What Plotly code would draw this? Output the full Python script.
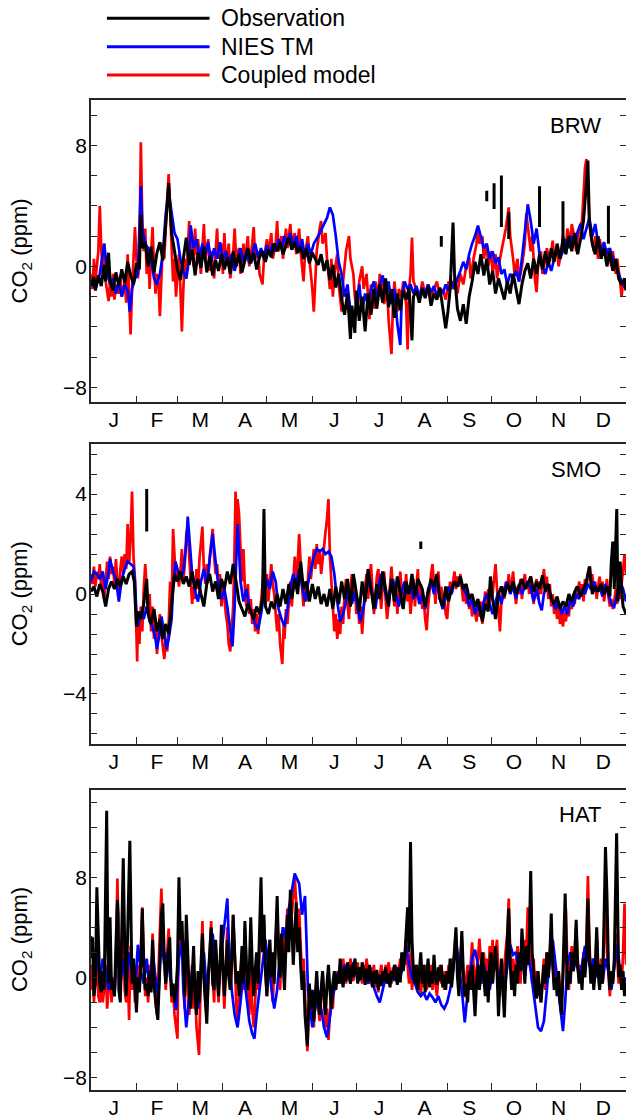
import plotly.graph_objects as go

MONTHS = ['J', 'F', 'M', 'A', 'M', 'J', 'J', 'A', 'S', 'O', 'N', 'D']
MONTH_STARTS = [0, 31, 59, 90, 120, 151, 181, 212, 243, 273, 304, 334, 365]
MONTH_MIDS = [(a + b) / 2 for a, b in zip(MONTH_STARTS[:-1], MONTH_STARTS[1:])]

# ---------------- BRW ----------------
BRW_OBS = [(0,-1.3),(2,-0.7),(3,-1.6),(5,-0.6),(7,-1.3),(9,0.1),(10,-1.0),(12,0.9),(13,-0.9),(15,-1.6),
 (17,-0.4),(19,-1.3),(21,-0.2),(23,-1.1),(25,0.3),(27,-0.6),(29,-1.2),(31,0.2),(33,-0.2),(34,3.4),
 (35,1.2),(37,1.6),(39,0.0),(41,1.3),(43,-0.4),(45,0.9),(47,1.6),(49,0.4),(51,2.8),(53,5.5),(55,2.2),
 (57,1.0),(59,-0.2),(61,-0.9),(63,0.6),(65,1.9),(67,0.1),(69,1.1),(71,-0.6),(73,0.9),(75,-0.1),(77,1.3),
 (79,-0.4),(81,0.7),(83,-0.6),(85,0.4),(87,-0.3),(89,0.8),(91,-0.2),(93,0.6),(95,-0.5),(97,1.0),(99,0.0),
 (101,0.8),(103,-0.4),(105,0.5),(107,1.2),(109,0.2),(111,0.9),(113,-0.2),(115,0.6),(117,1.0),(119,0.3),
 (121,1.1),(123,0.6),(125,1.5),(127,1.0),(129,1.6),(131,0.8),(133,1.4),(135,1.9),(137,1.1),(139,1.6),
 (141,0.9),(143,1.3),(145,0.5),(147,1.2),(149,0.2),(151,0.9),(153,0.5),(155,0.1),(157,0.8),(159,-0.3),
 (161,0.4),(163,-0.9),(165,0.1),(167,-1.4),(169,-0.5),(171,-2.2),(173,-3.2),(175,-1.8),(177,-4.8),
 (178,-2.6),(180,-4.4),(181,-1.6),(183,-3.6),(185,-2.0),(187,-4.3),(189,-1.8),(191,-3.2),(193,-1.5),
 (195,-2.8),(197,-1.2),(199,-2.4),(201,-0.8),(203,-2.7),(205,-1.5),(207,-3.4),(209,-1.8),(211,-2.9),
 (213,-1.6),(215,-2.2),(217,-1.4),(219,-4.9),(220,-2.0),(222,-1.6),(224,-2.4),(226,-1.5),(228,-2.1),
 (230,-1.3),(232,-2.6),(234,-1.8),(236,-2.2),(238,-1.4),(240,-2.8),(242,-4.1),(243.5,-3.0),(245,-1.5),
 (247,2.9),(248,-0.5),(250,-2.8),(252,-3.6),(254,-2.5),(256,-3.8),(258,-2.0),(260,-1.0),(262,0.3),
 (264,-0.5),(266,0.8),(268,-0.6),(270,0.5),(272,-1.2),(274,-0.3),(276,-1.8),(278,-0.8),(280,-1.6),
 (282,-2.2),(284,-1.0),(286,-1.8),(288,-0.5),(290,-1.5),(292,-2.5),(294,-1.2),(296,-0.3),(298,0.2),
 (300,-0.8),(302,0.5),(304,-0.5),(306,0.8),(308,-0.2),(310,1.0),(312,0.0),(314,1.2),(316,0.3),(318,1.5),
 (320,0.5),(322,1.8),(324,0.8),(326,2.0),(328,1.0),(330,2.2),(332,0.8),(334,1.8),(336,3.0),(338,5.5),
 (339,7.0),(340,3.0),(342,1.5),(344,0.8),(346,2.0),(348,0.5),(350,1.2),(352,0.0),(354,1.0),(356,-0.3),
 (358,0.5),(360,-0.8),(362,-1.2),(364,-0.8),(365,-1.6)]
BRW_OBS_MARKS = [(239,1.3,2.0),(270,4.3,5.0),(275,3.8,5.5),(280,2.6,6.0),(285,1.8,3.6),(306,2.6,5.3),
 (322,1.5,4.3),(353,1.5,4.0)]

BRW_NIES = [(0,-1.0),(3,-1.5),(6,-0.5),(8,0.8),(9,1.5),(11,-0.3),(13,-1.2),(15,-0.8),(17,-1.8),(19,-1.0),
 (21,-2.0),(23,-1.2),(25,-1.6),(26.5,-3.0),(28,-1.5),(30,-0.8),(32,-0.5),(34,5.3),(35,2.5),(37,1.5),
 (39,1.2),(41,0.5),(43,-0.8),(45,-1.2),(47,-0.5),(49,0.8),(51,3.5),(53,4.9),(55,3.5),(57,2.2),(59,1.8),
 (61,0.5),(63,-0.3),(65,-0.8),(67,0.5),(68,2.7),(70,1.2),(72,1.8),(74,0.6),(76,1.5),(78,0.8),(80,1.6),
 (82,0.3),(84,1.2),(86,0.5),(88,1.6),(90,0.4),(92,1.0),(94,0.2),(96,0.8),(98,-0.3),(100,0.5),(102,1.2),
 (104,0.3),(106,1.0),(108,0.2),(110,0.9),(112,1.5),(114,0.6),(116,1.2),(118,0.5),(120,1.4),(122,0.8),
 (124,1.5),(126,1.0),(128,1.8),(130,1.2),(132,2.0),(134,1.5),(136,2.2),(138,1.3),(140,2.0),(142,1.0),
 (144,1.8),(146,0.6),(148,1.5),(150,0.8),(152,1.5),(155,2.0),(158,2.6),(161,3.2),(163,3.9),(165,3.4),
 (167,2.0),(169,0.3),(171,-0.5),(173,-2.0),(175,-1.2),(177,-3.0),(179,-4.0),(181,-2.5),
 (183,-1.2),(185,-3.0),(187,-1.8),(189,-2.5),(191,-1.5),(193,-1.0),(195,-2.2),(197,-1.2),(199,-0.6),
 (201,-1.8),(203,-1.0),(205,-2.5),(207,-1.5),(209,-3.8),(211,-5.2),(212,-2.0),(214,-1.0),(216,-1.5),
 (218,-1.2),(220,-1.8),(222,-1.3),(224,-2.0),(226,-1.4),(228,-1.8),(230,-1.2),(232,-1.7),(234,-1.3),
 (236,-2.0),(238,-1.5),(240,-1.8),(242,-1.2),(244,-1.6),(246,-1.0),(248,-1.5),(250,-0.8),(252,-0.3),
 (254,0.3),(256,-0.2),(258,0.8),(260,1.5),(262,2.0),(264,2.7),(266,2.0),(268,1.2),(270,1.5),(272,0.5),
 (274,1.0),(276,0.2),(278,0.6),(280,-0.5),(282,-0.2),(284,-1.2),(286,-0.5),(288,-0.8),(290,-0.3),
 (292,-1.0),(294,0.5),(296,2.5),(298,4.1),(300,3.0),(302,1.5),(304,2.5),(306,0.8),(308,0.0),(310,-0.5),
 (312,0.3),(314,-0.3),(316,0.5),(318,1.2),(320,0.5),(322,1.0),(324,1.8),(326,1.2),(328,2.0),(330,1.5),
 (332,2.3),(334,2.8),(336,1.8),(338,2.5),(340,3.2),(342,2.0),(344,2.8),(346,1.5),(348,1.0),(350,1.6),
 (352,0.8),(354,1.2),(356,0.5),(358,0.0),(360,-0.5),(362,-1.0),(365,-1.5)]

BRW_COUPLED = [(0,-0.5),(1,-1.5),(2,0.5),(3,-1.0),(5,1.0),(6,4.0),(7,1.2),(8,-0.5),(9,1.5),(10,-1.0),
 (12,-2.3),(13,-1.0),(14,-2.0),(15,-0.5),(16,-2.2),(17,-1.2),(19,-1.8),(20,-0.8),(21,-2.0),(23,-1.0),
 (24,-2.4),(25,0.8),(26,-2.0),(27,-4.5),(28,-1.5),(29,1.2),(30,2.6),(31,0.5),(32,-0.8),(33,0.5),(34,8.2),
 (35,3.0),(36,1.0),(37,2.5),(38,-0.5),(39,1.0),(40,-1.5),(41,0.8),(42,2.6),(43,0.0),(44,-1.8),(45,-0.5),
 (46,-1.0),(47,-3.3),(48,-1.2),(49,1.5),(50,0.5),(51,2.8),(52,4.5),(53,6.1),(54,3.5),(55,1.0),(56,-1.0),
 (57,0.5),(58,-2.0),(59,-0.5),(60,0.8),(61,-1.5),(62,-4.3),(63,-1.5),(64,0.5),(65,-0.8),(66,1.5),(67,3.0),
 (68,1.0),(69,2.0),(70,0.0),(71,2.5),(72,0.8),(73,1.8),(75,-0.5),(76,1.2),(77,2.8),(78,0.5),(80,1.8),
 (81,-0.3),(82,1.0),(84,-0.8),(85,1.2),(86,2.5),(87,0.5),(89,1.5),(90,-0.5),(91,2.2),(92,0.0),(94,1.5),
 (95,-0.8),(97,0.8),(98,2.5),(99,0.5),(101,1.2),(102,-0.5),(104,1.5),(105,0.3),(107,2.0),(108,0.0),
 (110,1.5),(111,2.6),(112,0.5),(114,1.0),(115,-0.5),(117,-1.2),(118,0.5),(120,1.8),(121,0.8),(123,2.2),
 (124,0.5),(126,1.5),(127,3.0),(128,1.0),(130,2.0),(131,0.5),(133,2.5),(134,1.2),(136,2.8),(137,1.5),
 (139,2.2),(140,0.8),(142,2.5),(143,1.0),(145,-1.0),(146,0.8),(148,2.0),(149,0.5),(151,-1.5),(152,-3.0),
 (153,-1.0),(154,1.0),(156,2.5),(157,3.0),(158,1.5),(160,2.2),(161,0.5),(163,-1.5),(164,0.5),(165,-2.0),
 (166,-0.5),(168,0.8),(169,-1.2),(171,-3.0),(172,-1.0),(174,1.0),(176,2.0),(177,0.5),(179,-0.5),
 (180,-2.0),(182,-3.0),(183,-1.0),(185,0.0),(186,-1.5),(188,-0.5),(190,-3.5),(191,-1.2),(193,-2.8),
 (194,-1.0),(196,-2.0),(197,-0.5),(199,-1.5),(200,-2.5),(202,-1.2),(203,-3.5),(204,-4.5),(205,-5.8),
 (206,-2.5),(207,-1.0),(209,-3.0),(210,-1.5),(212,-2.0),(213,-1.0),(215,-2.5),(216,-5.5),(217,-1.5),
 (218,-0.5),(219,1.9),(220,-1.0),(222,-1.5),(224,-2.2),(226,-1.0),(228,-1.8),(230,-1.2),(232,-2.0),
 (234,-1.5),(236,-1.0),(238,-2.0),(240,-1.5),(242,-2.2),(244,-1.0),(246,-1.5),(248,-0.8),(250,-1.8),
 (252,-0.5),(254,-1.2),(256,0.0),(258,0.6),(259,-0.8),(261,0.5),(263,1.5),(264,2.6),(265,1.5),(267,2.0),
 (268,0.5),(270,1.5),(271,0.0),(273,1.0),(274,-0.5),(276,0.8),(277,-0.8),(279,0.5),(281,1.5),(283,2.5),
 (285,3.9),(286,2.0),(288,0.5),(289,-0.5),(291,0.5),(292,-1.0),(294,0.0),(296,1.5),(297,3.5),(298,2.5),
 (300,1.0),(301,2.0),(302,0.0),(303,-1.0),(304,-1.7),(305,0.0),(307,1.0),(308,-0.5),(310,0.5),(311,1.2),
 (313,0.3),(315,1.7),(316,0.5),(318,1.2),(319,0.0),(321,1.0),(322,2.0),(324,1.2),(325,2.5),(327,1.5),
 (328,2.8),(330,1.8),(331,1.0),(333,2.5),(335,3.0),(336,5.0),(337,6.5),(338,7.1),(339,5.5),(340,3.0),
 (341,2.0),(343,1.0),(344,2.0),(346,0.5),(347,1.8),(349,0.8),(350,1.5),(352,0.5),(353,1.2),(355,0.0),
 (356,1.0),(358,-0.5),(359,0.5),(361,-1.0),(362,-2.0),(363,-1.0),(365,-1.5)]

# ---------------- SMO ----------------
SMO_OBS = [(0,0.1),(2,0.3),(4,-0.1),(6,0.4),(8,0.1),(10,-0.5),(12,0.2),(14,0.5),(16,0.2),(18,0.6),(20,0.3),
 (22,0.7),(24,0.4),(26,0.8),(28,0.9),(29.5,0.5),(31,-1.3),(32,-0.7),(34,-1.0),(36,-0.4),(38,0.6),(39,-0.8),
 (41,-1.2),(43,-0.6),(45,-1.5),(47,-1.0),(49,-1.8),(51,-1.2),(53,-1.6),(55,-0.5),(57,0.8),(59,0.5),
 (61,0.9),(63,0.4),(65,0.7),(67,0.3),(69,0.9),(71,0.2),(73,0.6),(75,0.0),(77,-0.5),(79,0.4),(81,0.8),
 (83,0.1),(85,0.5),(87,-0.2),(89,0.6),(91,0.2),(93,0.9),(95,0.4),(97,1.2),(99,0.5),(101,-0.3),(103,-0.6),
 (105,-0.9),(107,-0.4),(109,-0.7),(111,-1.0),(113,-0.5),(115,-0.8),(117,-0.2),(118,3.4),(119,-0.5),
 (121,-0.8),(123,-0.3),(125,-0.6),(127,0.0),(129,-0.5),(131,0.2),(133,-0.4),(135,0.4),(137,-0.2),
 (139,0.6),(141,0.0),(143,1.3),(145,0.2),(147,0.5),(149,-0.3),(151,0.4),(153,-0.2),(155,0.3),(157,-0.4),
 (159,0.0),(161,-0.5),(163,0.2),(165,-0.6),(167,0.3),(169,-0.4),(171,0.5),(173,-0.2),(175,0.6),(177,-0.5),
 (179,0.8),(181,0.0),(183,-0.7),(185,0.5),(187,-0.3),(189,1.0),(191,0.2),(193,-0.6),(195,0.4),(197,-0.2),
 (199,0.9),(201,0.1),(203,-0.5),(205,0.6),(207,-0.3),(209,0.7),(211,0.0),(213,-0.6),(215,0.5),(217,0.0),
 (219,0.8),(221,-0.1),(223,0.6),(226,0.2),(228,-0.5),(230,0.0),(232,0.6),(234,0.3),(236,0.8),(238,-0.2),
 (240,-0.5),(242,0.3),(244,-0.3),(246,0.2),(248,0.5),(250,0.3),(252,0.7),(254,0.2),(256,0.4),(258,-0.2),
 (260,0.0),(262,-0.5),(264,-0.2),(266,-0.8),(267,-1.1),(269,-0.4),(271,-0.7),(272.5,0.7),(274,-0.2),
 (276,-1.0),(278,0.0),(280,0.3),(282,-0.1),(284,0.4),(286,0.1),(288,0.5),(290,0.0),(292,0.3),(294,0.6),
 (296,0.2),(298,0.4),(300,0.7),(302,0.1),(304,0.5),(306,0.2),(308,0.75),(310,0.1),(312,0.4),(314,-0.2),
 (316,-0.4),(318,-0.1),(320,-0.6),(322,-0.3),(324,-0.5),(326,0.0),(328,-0.3),(330,0.1),(332,0.3),
 (334,-0.1),(336,0.2),(338,0.5),(340,1.1),(342,0.0),(344,0.3),(346,0.1),(348,0.4),(350,0.0),(352,0.3),
 (354,-0.1),(355,1.3),(356,2.1),(357,0.2),(358.7,3.4),(359.5,-0.3),(361,1.3),(362,0.2),(363,-0.5),
 (365,-0.8)]
SMO_OBS_MARKS = [(38,2.5,4.2),(225,1.8,2.1)]

SMO_NIES = [(0,0.5),(2,0.9),(4,0.8),(6,0.6),(8,0.9),(10,0.2),(12,0.9),(13,1.4),(15,0.9),(17,0.6),(19,-0.3),
 (21,0.6),(23,1.0),(25,1.3),(27,1.2),(29,1.1),(30,0.5),(31,-0.8),(32,-1.3),(34,-0.7),(36,-1.0),(38,-0.5),
 (40,-1.1),(42,-1.3),(44,-1.8),(45,-2.2),(47,-1.5),(48,-0.9),(50,-1.5),(51.5,-2.2),(53,-1.8),(55,-1.0),
 (56,0.3),(57.6,1.3),(59,1.0),(61,0.6),(63,0.9),(65,2.0),(66,3.1),(67,2.2),(69,0.8),(71,0.1),(73,-0.3),
 (75,0.5),(77,1.0),(79,0.4),(81,1.5),(83,2.4),(85,1.3),(87,0.3),(89,-0.2),(91,0.2),(93,-0.5),(95,-1.5),
 (96.5,-2.1),(98,-0.5),(99,1.6),(100,2.8),(101,1.8),(102,0.5),(104,-0.3),(106,0.2),(108,-0.5),(110,-0.9),
 (112,-1.2),(114,-1.4),(116,-0.8),(118,0.0),(120,0.6),(122,0.2),(124,0.9),(126,0.5),(128,-0.6),(130,-1.0),
 (132,-1.3),(134,-0.6),(136,0.3),(138,0.8),(140,0.4),(142,1.0),(144,0.3),(146,-0.3),(148,0.4),(150,0.9),
 (152,1.5),(154,1.8),(156,1.7),(158,1.8),(160,1.6),(162,1.7),(164,1.5),(166,0.8),(168,-0.3),(170,-1.1),
 (172,-0.8),(174,-0.3),(176,0.2),(178,-0.4),(180,0.1),(182,-0.6),(184,-1.1),(186,-0.5),(188,0.2),
 (190,0.6),(192,0.0),(194,-0.6),(196,0.3),(198,0.8),(200,0.3),(202,-0.3),(204,0.2),(206,0.6),(208,0.0),
 (210,-0.5),(212,0.1),(214,0.5),(216,0.0),(218,0.4),(220,-0.2),(222,0.3),(224,-0.4),(226,0.0),(228,-0.6),
 (230,0.2),(232,0.5),(234,0.0),(236,0.6),(238,-0.2),(240,-0.6),(242,-0.2),(244,0.3),(246,0.0),(248,0.5),
 (250,0.3),(252,0.6),(254,0.2),(256,0.0),(258,-0.5),(260,-0.2),(262,-0.8),(264,-0.4),(266,-0.9),
 (268,-0.3),(270,0.0),(272,-0.4),(274,-0.8),(276,-0.3),(278,0.1),(280,-0.4),(282,0.2),(284,0.5),(286,0.0),
 (288,0.3),(290,-0.2),(292,0.4),(294,0.0),(296,0.3),(298,0.5),(300,0.2),(302,-0.3),(304,0.2),(306,-0.4),
 (307.5,-0.65),(309,0.0),(311,0.4),(313,0.0),(315,-0.3),(317,-0.6),(319,-0.3),(321,-0.8),(323,-0.5),
 (325,-0.8),(327,-0.2),(329,-0.5),(331,0.0),(333,-0.2),(335,0.2),(337,0.0),(339,0.4),(341,0.2),(343,0.5),
 (345,0.1),(347,0.3),(349,-0.1),(351,0.4),(353,0.0),(355,-0.4),(357,-0.5),(359,0.0),(361,0.5),(363,0.2),
 (365,-0.3)]

SMO_COUPLED = [(0,0.8),(1,0.4),(2,1.1),(3,0.3),(4,0.9),(5,0.6),(6,1.2),(7,0.2),(8,0.7),(9,-0.2),(10,0.5),
 (11,1.3),(12,0.6),(13,1.5),(14,0.8),(15,1.1),(16,0.4),(17,1.4),(18,0.5),(19,0.0),(20,1.0),(21,1.5),
 (22,0.8),(23,1.6),(24,1.0),(25,2.8),(26,1.2),(27,2.2),(28,4.1),(29,1.5),(30,0.6),(31,-2.0),(31.5,-2.7),
 (32,-1.0),(33,-2.0),(34,-0.5),(35,-1.5),(36,0.2),(37,1.2),(38,0.3),(39,-0.8),(40,0.0),(41,-1.5),
 (42,-0.5),(43,-1.8),(44,-1.0),(45,-2.4),(46,-1.5),(47,-0.8),(48,-1.6),(49,-2.2),(50,-2.6),(51,-1.8),
 (52,-2.3),(53,-1.2),(54,0.5),(55,-0.5),(56,2.6),(57,1.5),(58,0.5),(59,1.0),(60,0.3),(61,0.9),(62,1.8),
 (63,0.6),(64,1.2),(65,2.4),(66,2.7),(67,1.5),(68,0.5),(69,-0.4),(70,0.3),(71,-0.2),(72,1.0),(73,0.2),
 (74,1.4),(75,2.0),(76,2.7),(77,1.0),(78,0.4),(79,1.2),(80,0.6),(81,1.5),(82,2.0),(83,2.6),(84,1.5),
 (85,0.8),(86,1.2),(87,0.3),(88,0.8),(89,-0.5),(90,0.5),(91,-0.2),(92,-0.8),(93,-1.2),(94,-2.0),(95,-2.3),
 (96,-1.5),(97,-0.5),(98,2.0),(98.6,4.1),(99.5,2.5),(100,3.8),(101,3.2),(102,1.5),(103,0.5),(104,1.8),
 (105,0.2),(106,-0.5),(107,0.4),(108,-0.8),(109,-0.2),(110,-1.2),(111,-0.6),(112,-1.5),(113,-0.8),
 (114,-1.6),(115,-1.0),(116,-0.2),(117,0.5),(118,1.0),(119,0.2),(120,0.8),(121,-0.3),(122,0.5),(123,1.2),
 (124,0.4),(125,0.0),(126,-0.8),(127,-1.5),(128,-0.8),(129,-2.0),(130.5,-2.8),(131.5,-1.2),(132,-1.8),
 (133,-0.6),(134,-1.2),(135,-0.2),(136,0.5),(137,-0.5),(138,0.8),(139,1.5),(140,0.6),(141,1.2),(142,2.4),
 (143,1.0),(144,0.2),(145,-0.5),(146,0.5),(147,-0.3),(148,0.8),(149,1.5),(150,0.6),(151,1.2),(152,1.8),
 (153,1.0),(154,2.0),(155,1.2),(156,1.8),(157,0.8),(158,1.5),(159,1.9),(160,2.5),(161,3.0),(162,3.8),
 (163,1.5),(164,0.5),(165,-0.5),(166,-1.5),(167,-0.8),(168,-1.8),(169,-1.0),(170,-1.6),(171,-0.5),
 (172,-1.2),(173,0.0),(174,0.6),(175,-0.4),(176,-1.0),(177,0.2),(178,0.8),(179,-0.3),(180,0.5),(181,-0.8),
 (182,-0.2),(183,-1.2),(184,-0.5),(185,-1.6),(186,-0.6),(187,0.3),(188,0.8),(189,-0.2),(190,0.5),
 (191,1.2),(192,0.2),(193,-0.8),(194,-0.2),(195,0.7),(196,1.0),(197,0.0),(198,-0.6),(199,0.3),(200,0.9),
 (201,-0.2),(202,-1.0),(203,-0.4),(204,0.5),(205,1.1),(206,0.2),(207,-0.5),(208,0.4),(209,-0.8),(210,0.0),
 (211,0.9),(212,0.2),(213,-0.6),(214,0.1),(215,0.8),(216,-0.3),(217,0.3),(218,-0.8),(219,0.0),(220,0.6),
 (221,-0.5),(222,0.2),(223,1.0),(224,-0.3),(225,0.4),(226,-0.6),(227,-0.2),(228,-1.0),(229,-1.45),
 (230,-0.5),(231,0.3),(232,0.8),(233,1.2),(234,0.2),(235,-0.4),(236,0.5),(237,0.9),(238,-0.2),(239,0.3),
 (240,-0.6),(241,0.0),(242,-0.8),(243,-1.0),(244,-0.2),(245,0.5),(246,0.0),(247,0.6),(248,0.9),(249,0.2),
 (250,0.7),(251,0.3),(252,0.8),(253,0.2),(254,-0.3),(255,0.4),(256,-0.4),(257,0.2),(258,-0.6),(259,-0.2),
 (260,-0.9),(261,-0.3),(262,-0.7),(263,-1.1),(264,-0.5),(265,-0.9),(266,-0.3),(267,-1.2),(268,-0.4),
 (269,0.1),(270,-0.5),(271,0.2),(272,-0.3),(273,0.5),(274,0.0),(275,0.8),(276,1.2),(277,0.2),(278,-0.6),
 (279,-1.5),(280,-0.3),(281,0.3),(282,-0.2),(283,0.5),(284,0.2),(285,0.8),(286,0.0),(287,0.6),(288,0.9),
 (289,0.1),(290,-0.4),(291,0.3),(292,0.0),(293,0.6),(294,-0.2),(295,0.4),(296,0.8),(297,0.2),(298,0.5),
 (299,0.0),(300,0.7),(301,0.2),(302,-0.4),(303,0.3),(304,0.6),(305,-0.2),(306,0.5),(307,0.0),(308,0.6),
 (309,1.0),(310,0.3),(311,0.7),(312,-0.2),(313,0.4),(314,-0.5),(315,0.0),(316,-0.8),(317,-0.3),(318,-1.0),
 (319,-0.5),(320,-1.2),(321,-0.6),(322,-1.3),(323,-0.7),(324,-1.1),(325,-0.4),(326,-0.9),(327,-0.2),
 (328,-0.6),(329,0.0),(330,-0.4),(331,0.3),(332,-0.2),(333,0.5),(334,0.0),(335,0.4),(336,-0.3),(337,0.6),
 (338,0.2),(339,0.8),(340.5,1.1),(341,0.4),(342,0.8),(343,0.1),(344,0.5),(345,-0.2),(346,0.3),(347,0.7),
 (348,0.1),(349,0.5),(350,-0.3),(351,0.2),(352,0.6),(353,-0.1),(354,-0.5),(355,-0.2),(356,-0.6),
 (357,-0.3),(358,0.2),(359,-0.4),(360,0.5),(361,-0.2),(362,0.6),(363,1.0),(364,1.6),(365,0.8)]

# ---------------- HAT ----------------
HAT_OBS = [(0,1.5),(1,3.2),(2,-1.5),(3,-0.5),(4,7.2),(5,4.0),(6,-0.5),(7,-1.2),(8,0.5),(9,-1.0),(10,6.5),
 (10.7,13.3),(11.5,2.0),(12,-0.5),(13,4.8),(14,-1.0),(15,-0.2),(16,-1.5),(17,2.5),(18,6.2),(18.5,5.0),
 (19,-1.0),(20,-2.0),(21,4.0),(22,9.5),(23,2.5),(24,-1.5),(25,3.5),(26.5,10.9),(27.5,3.0),(28,-0.5),
 (29,1.5),(30,-1.0),(31,-2.8),(32,0.0),(33,-1.2),(34,1.0),(35,5.5),(36,1.0),(37,-1.0),(38,-0.5),(39,-1.5),
 (40,0.5),(41,-1.2),(42,3.0),(43,-0.5),(44,-1.8),(45.6,-3.4),(46.5,-0.5),(47,2.0),(48,5.0),(49,5.9),
 (50,1.5),(51,-0.5),(52,1.0),(53.7,3.2),(54.5,0.0),(55,-1.5),(56,-0.5),(57,-2.0),(58,-1.0),(59,1.0),
 (60,8.0),(61,3.0),(62,4.5),(63,1.0),(64,-1.5),(65,5.0),(66,1.0),(67,-1.0),(68,-2.5),(69,0.0),(70,2.5),
 (71,-1.5),(72,-3.0),(73,0.5),(74,-2.0),(75,1.0),(76,3.5),(77,0.0),(78,-1.5),(79,-3.7),(80,0.0),(81,2.0),
 (82,4.0),(83,-0.5),(84,-1.0),(85,3.0),(86,0.5),(87,-1.5),(88,1.0),(89,4.2),(90,1.0),(91,-1.5),(92,0.5),
 (93,3.0),(94,0.0),(95,-1.0),(96,1.5),(97,5.0),(98,2.0),(99,-0.5),(100,0.5),(101,-1.5),(102,0.0),
 (103,2.5),(104,-0.5),(105,4.5),(106,1.0),(107,-1.0),(108,0.5),(109,4.8),(110,1.0),(111,-1.5),(112,0.5),
 (113,2.0),(114,-0.5),(115,3.0),(116,8.0),(117,2.0),(118,5.0),(119,0.5),(120,-1.5),(121,1.0),(122,3.0),
 (123,0.0),(124,2.0),(125,-0.5),(126,4.0),(127,6.5),(128,2.0),(129,0.0),(130,3.5),(131,1.0),(132,-1.0),
 (133,2.5),(134,5.0),(135,2.0),(136,7.0),(137,4.0),(138,1.0),(139,3.5),(140,6.0),(141,2.0),(142,4.0),
 (143,1.0),(144,-1.0),(145,0.5),(146,-3.0),(147.6,-5.5),(148.5,-2.0),(149,-0.5),(150,-2.5),(151,-1.0),
 (152,-3.5),(153,-1.5),(154,0.5),(155,-2.0),(156,-3.0),(157,-1.0),(158,0.5),(159,-1.5),(160,-3.0),
 (161,-0.5),(162,1.0),(163,-1.0),(164,-2.5),(165,-0.5),(166,0.5),(167,-1.0),(168,0.3),(169,-0.5),
 (170,1.5),(171,0.0),(172,-0.8),(173,0.8),(174,-0.3),(175,1.2),(176,0.2),(177,-0.5),(178,1.0),(179,0.0),
 (180,1.5),(181,0.3),(182,-0.5),(183,0.8),(184,-0.2),(185,1.2),(186,0.5),(187,-0.6),(188,0.7),(189,-0.3),
 (190,1.0),(191,0.0),(192,-0.8),(193,0.5),(194,-0.5),(195,0.6),(196,-1.0),(197,0.2),(198,-0.7),(199,0.5),
 (200,-0.3),(201,0.8),(202,-0.5),(203,0.3),(204,-0.8),(205,0.5),(206,-0.2),(207,1.0),(208,0.0),(209,-0.6),
 (210,0.8),(211,-0.4),(212,2.0),(213,0.5),(214,1.5),(215,4.0),(216,5.6),(217,2.0),(218,10.8),(219,3.0),
 (220,0.5),(221,-0.5),(222,1.0),(223,-1.0),(224,0.5),(225,2.0),(226,-0.5),(227,1.0),(228,-1.2),(229,0.3),
 (230,1.5),(231,-0.8),(232,0.5),(233,-0.5),(234,1.8),(235,0.0),(236,-0.6),(237,0.8),(238,-0.3),(239,1.0),
 (240,-0.8),(241,0.2),(242,-1.0),(243,0.5),(244,-0.5),(245,1.5),(246,-0.8),(247,0.5),(248,2.0),(249,4.0),
 (250,0.0),(251,-1.5),(252,1.0),(253,3.7),(254,0.5),(255,-1.5),(256,-0.5),(257,-2.0),(258,0.5),(259,-1.0),
 (260,1.0),(261,-1.5),(262,-3.1),(263,-0.5),(264,1.0),(265,-1.0),(266,0.5),(267,2.0),(268,0.0),(269,-1.5),
 (270,0.5),(271,-2.0),(272,1.0),(273,2.0),(274,-0.5),(275,1.5),(276,2.5),(277,0.5),(278,-3.1),(279,-0.5),
 (280,1.5),(281,-1.0),(282,-3.2),(283,0.0),(284,2.5),(285,5.5),(286,1.0),(287,-1.0),(288,0.5),(289,-1.5),
 (290,1.0),(291,-0.5),(292,2.0),(293,0.5),(294,3.9),(295,1.0),(296,-0.5),(297,2.5),(298,1.0),(299,3.0),
 (300,8.5),(301,2.0),(302,0.0),(303,-1.0),(304,-1.7),(305,0.5),(306,-1.0),(307,-2.0),(308,-0.5),(309,1.0),
 (310,-0.5),(311,2.0),(312,0.0),(313,1.5),(314,5.1),(315,1.0),(316,-1.0),(317,0.0),(318,-1.5),(319,0.5),
 (320,-2.0),(321,-3.0),(322,0.5),(323.5,6.7),(324.5,1.0),(325,-1.0),(326,0.5),(327,-0.5),(328,2.0),
 (329,0.5),(330,1.5),(331,4.6),(332,1.0),(333,-0.5),(334,0.5),(335,-1.0),(336,1.5),(337,0.0),(338,2.0),
 (339,6.3),(340,2.0),(341,-0.5),(342,1.0),(343,-1.0),(344,0.5),(345,4.0),(346,0.5),(347,-1.0),(348,1.0),
 (349,-0.5),(350,4.5),(351,10.4),(352,6.6),(353,1.0),(354,-1.0),(355,0.5),(356,-0.5),(357,1.5),
 (358.6,11.5),(359.5,3.0),(360,0.0),(361,1.0),(362,-1.0),(363,0.5),(364,-1.5),(365,-0.5)]

HAT_NIES = [(0,3.3),(2,1.0),(4,2.5),(6,-0.5),(8,1.5),(10,0.5),(12,-1.0),(14,0.0),(16,-1.5),(18,3.0),
 (20,-0.5),(22,1.5),(24,-1.0),(26,2.0),(28,0.5),(30,-1.0),(32,2.6),(34,0.5),(36,-0.5),(38,1.5),(40,-1.0),
 (42,2.0),(44,0.0),(46,-1.5),(48,3.0),(50,1.0),(52,2.0),(54,0.0),(56,-1.0),(58,-2.6),(60,1.5),(62,3.0),
 (63,-1.0),(65,-4.0),(67,-1.5),(69,0.5),(71,-1.0),(73,-2.5),(75,0.0),(77,2.0),(79,-1.0),(81,1.5),(83,3.5),
 (85,1.0),(87,-1.0),(89,2.0),(91,4.0),(93,6.3),(94,3.0),(96,-1.0),(98,-3.0),(100,-4.0),(102,-2.0),
 (104,0.5),(106,-1.5),(108,-3.5),(110,-4.5),(111.5,-4.9),(113,-3.0),(115,-1.0),(117,1.5),(119,3.0),
 (121,1.0),(123,-1.0),(125,-2.5),(127,-1.0),(129,2.0),(131,4.0),(133,3.0),(135,5.5),(137,7.0),(139,8.3),
 (140,8.0),(142,7.5),(144,5.0),(146,6.5),(147,3.0),(148,-1.0),(150,-3.0),(151,-4.0),(153,-2.5),(155,-1.0),
 (157,-2.5),(159,-4.0),(161,-4.8),(163,-3.0),(165,-1.5),(167,-0.5),(169,0.5),(171,-0.5),(173,1.0),
 (175,0.5),(177,-0.5),(179,1.2),(181,0.5),(183,-0.3),(185,0.8),(187,0.0),(189,-0.5),(191,0.3),(193,-0.8),
 (195,-1.5),(197,-2.0),(199,-1.0),(201,0.0),(203,-0.5),(205,0.5),(207,-0.3),(209,0.8),(211,0.0),(213,1.0),
 (215,2.5),(217,1.0),(219,0.0),(221,-0.5),(223,-1.2),(225,-1.5),(227,-1.2),(229,-1.8),(231,-1.3),
 (233,-1.6),(235,-2.0),(237,-1.5),(239,-2.2),(241,-2.5),(243,-2.0),(245,-1.0),(247,0.5),(249,3.1),
 (251,1.0),(253,-1.0),(255,-3.6),(256,-2.5),(258,0.0),(260,1.5),(262,2.2),(264,1.0),(266,-0.5),(268,1.0),
 (270,0.0),(272,-1.0),(274,0.5),(276,1.5),(278,0.0),(280,0.4),(282,-1.0),(284,1.0),(286,2.6),(288,1.8),
 (290,2.0),(292,0.5),(294,1.5),(296,0.0),(298,2.0),(300,0.5),(302,-1.5),(304,-3.0),(305,-4.0),(307,-4.3),
 (309,-3.5),(311,-1.0),(313,1.5),(315,3.0),(317,1.0),(319,-1.0),(321,-3.0),(322,-4.3),(323.5,-2.0),
 (325,1.0),(327,2.0),(329,0.5),(331,1.5),(333,0.0),(335,1.0),(337,2.5),(339,1.5),(341,0.5),(343,1.5),
 (345,0.0),(347,1.0),(349,-0.5),(351,1.5),(353,0.5),(355,-1.0),(357,1.0),(359,2.6),(361,0.5),(363,-1.0),
 (365,0.0)]

HAT_COUPLED = [(0,-1.0),(1,1.0),(2,-2.0),(3,0.5),(4,3.0),(5,-1.5),(6,-2.0),(7,0.5),(8,-2.0),(9,-1.0),
 (10,1.0),(11,-2.5),(12,-1.0),(13,2.0),(14,-2.0),(15,0.0),(16,-1.5),(17,1.0),(18,7.9),(19,2.0),(20,-1.5),
 (21,1.0),(22,4.0),(23,-1.0),(24,-2.0),(25,0.5),(26,-3.4),(27,2.5),(28,-1.0),(29,1.0),(30,-2.0),(31,-1.5),
 (32,1.0),(33,-1.0),(34,2.0),(35,5.6),(36,1.5),(37,-1.5),(38,0.0),(39,-2.0),(40,1.0),(41,-1.0),(42,3.5),
 (43,0.5),(44,-2.0),(45,-3.0),(46,0.0),(47,3.0),(48,7.1),(49,4.0),(50,1.0),(51,-1.0),(52,2.0),(53,3.9),
 (54,1.0),(55,-2.0),(56,-1.0),(57,-3.0),(59,-4.9),(60,7.1),(61,2.0),(62,4.5),(63,0.0),(64,-2.5),(65,3.0),
 (66,-1.0),(67,-3.0),(68,-1.0),(69,1.0),(70,-2.5),(71,-1.0),(72,-4.0),(73.7,-6.2),(74.5,-2.0),(75,1.0),
 (76,4.5),(77,0.5),(78,-2.0),(79,-3.0),(80,0.0),(81,2.0),(82,4.5),(83,0.0),(84,-2.0),(85,2.5),(86,0.5),
 (87,-2.0),(88,1.0),(89,3.0),(90,0.0),(91,-2.5),(92,1.0),(93,4.0),(94,1.5),(95,-1.0),(96,0.5),(97,5.0),
 (98,2.0),(99,-2.0),(100,-3.5),(101,-1.0),(102,0.5),(103,2.0),(104,-1.0),(105,4.0),(106,0.5),(107,-2.0),
 (108,-3.0),(109,1.0),(110,-2.5),(111,-4.0),(112,-2.0),(113,0.5),(114,-1.0),(115,2.5),(116,6.0),(117,2.0),
 (118,4.5),(119,0.5),(120,-1.5),(121,1.0),(122,3.0),(123,-0.5),(124,-2.0),(125,0.5),(126,3.5),(127,5.5),
 (128,2.0),(129,-1.0),(130,2.0),(131,4.0),(132,1.0),(133,3.0),(134,5.5),(135,3.0),(136,6.5),(137,5.0),
 (138,7.0),(139,8.0),(140,6.0),(141,3.0),(142,5.5),(143,2.0),(144,0.0),(145,1.5),(146,-2.0),(147.6,-5.9),
 (148.5,-3.0),(149,-1.0),(150,-3.0),(151,-1.5),(152,-4.0),(153,-2.0),(154,0.0),(155,-2.5),(156,-3.5),
 (157,-1.5),(158,0.5),(159,-2.0),(160,-4.0),(161,-2.5),(162,-5.0),(163,-3.0),(164,-1.0),(165,-2.5),
 (166,0.0),(167,-1.0),(168,0.5),(169,-0.5),(170,1.0),(171,0.0),(172,1.5),(173,0.5),(174,-0.5),(175,1.0),
 (176,0.0),(177,1.5),(178,0.5),(179,-0.3),(180,1.0),(181,0.2),(182,1.2),(183,0.0),(184,0.8),(185,-0.5),
 (186,1.0),(187,0.3),(188,1.5),(189,0.5),(190,-0.5),(191,0.8),(192,0.0),(193,1.0),(194,-0.8),(195,0.5),
 (196,-1.2),(197,0.0),(198,1.0),(199,0.3),(200,-0.5),(201,1.0),(202,0.0),(203,1.2),(204,0.3),(205,-0.5),
 (206,0.8),(207,0.0),(208,1.0),(209,-0.3),(210,0.5),(211,1.5),(212,0.5),(213,2.0),(214,1.0),(215,3.0),
 (216,1.0),(217,-0.5),(218,2.0),(219,-1.0),(220,0.5),(221,-0.5),(222,1.0),(223,-1.0),(224,0.0),(225,-1.5),
 (226,0.5),(227,-0.8),(228,1.0),(229,-1.0),(230,0.0),(231,-0.5),(232,1.0),(233,-1.0),(234,0.5),(235,-0.5),
 (236,-1.5),(237,0.0),(238,1.0),(239,-0.5),(240,0.5),(241,-1.0),(242,0.5),(243,-0.5),(244,1.0),(245,0.0),
 (246,1.5),(247,0.5),(248,2.0),(249,3.5),(250,1.0),(251,-0.5),(252,1.5),(253,3.0),(254,0.0),(255,-1.6),
 (256,0.0),(257,1.0),(258,-1.0),(259,1.5),(260,2.8),(261,1.0),(262,-1.0),(263,0.5),(264,1.5),(265,3.1),
 (266,1.0),(267,-0.5),(268,2.0),(269,0.5),(270,1.5),(271,-1.0),(272,2.5),(273,1.0),(274,3.0),(275,0.5),
 (276,2.0),(277,3.0),(278,0.0),(279,-1.5),(280,1.0),(281,-0.5),(282,1.0),(283,2.0),(284,3.5),(285,6.3),
 (286,2.0),(287,0.0),(288,1.5),(289,-0.5),(290,1.0),(291,2.5),(292,1.0),(293,-0.5),(294,2.5),(295,1.0),
 (296,3.0),(297,2.0),(298,5.6),(299,2.5),(300,1.0),(301,-0.5),(302,1.5),(303,-1.0),(304,0.5),(305,-1.5),
 (306,-0.5),(307,-2.0),(308,0.0),(309,1.5),(310,-1.0),(311,2.0),(312,0.0),(313,2.5),(314,4.0),(315,1.0),
 (316,-0.5),(317,1.0),(318,-1.0),(319,0.5),(320,-1.5),(321,-2.5),(322,0.0),(323,2.5),(324,5.5),(325,1.0),
 (326,-1.0),(327,1.0),(328,2.5),(329,0.5),(330,2.0),(331,4.0),(332,1.5),(333,0.0),(334,1.0),(335,-0.5),
 (336,2.0),(337,0.5),(338,3.0),(339,8.1),(340,3.0),(341,0.0),(342,1.5),(343,-0.5),(344,1.0),(345,3.5),
 (346,0.5),(347,-1.0),(348,1.5),(349,0.0),(350,3.0),(351,6.0),(352,2.0),(353,0.0),(354,-1.5),(355,0.5),
 (356,-0.5),(357,1.0),(358,3.5),(359,1.5),(360,-0.5),(361,1.0),(362,-1.0),(363,2.0),(364,5.9),(365,1.0)]

STATIONS = ['BRW', 'SMO', 'HAT']
Y_RANGES = [[-9, 11], [-6, 6], [-9, 15]]
Y_DTICK = [8, 4, 8]
Y_MINOR = [2, 0.8, 2]
SERIES_NAMES = ['Observation', 'NIES TM', 'Coupled model']
SERIES_COLORS = ['#000000', '#0000ff', '#ff0000']

PANEL_DATA = [
    (BRW_OBS, BRW_OBS_MARKS, BRW_NIES, BRW_COUPLED),
    (SMO_OBS, SMO_OBS_MARKS, SMO_NIES, SMO_COUPLED),
    (HAT_OBS, [], HAT_NIES, HAT_COUPLED),
]
DOMAINS = [[0.6945, 1.0], [0.3495, 0.6525], [0.0, 0.3035]]

AXC = '#262626'
FONT = 'Liberation Sans, Arial, sans-serif'

def unzip(pairs):
    return [p[0] for p in pairs], [p[1] for p in pairs]

def with_marks(pairs, marks):
    xs, ys = unzip(pairs)
    for d, lo, hi in marks:
        xs += [None, d, d]
        ys += [None, lo, hi]
    return xs, ys

fig = go.Figure()
for i, (obs, marks, nies, coup) in enumerate(PANEL_DATA):
    sfx = '' if i == 0 else str(i + 1)
    xa, ya = 'x' + sfx, 'y' + sfx
    cx, cy = unzip(coup)
    fig.add_trace(go.Scatter(x=cx, y=cy, mode='lines', name=SERIES_NAMES[2], showlegend=False,
                             line=dict(color=SERIES_COLORS[2], width=2.7), xaxis=xa, yaxis=ya))
    nx, ny = unzip(nies)
    fig.add_trace(go.Scatter(x=nx, y=ny, mode='lines', name=SERIES_NAMES[1], showlegend=False,
                             line=dict(color=SERIES_COLORS[1], width=2.7), xaxis=xa, yaxis=ya))
    ox, oy = with_marks(obs, marks)
    fig.add_trace(go.Scatter(x=ox, y=oy, mode='lines', name=SERIES_NAMES[0], showlegend=False,
                             line=dict(color=SERIES_COLORS[0], width=3), xaxis=xa, yaxis=ya,
                             connectgaps=False))

    xkey = 'xaxis' + sfx
    ykey = 'yaxis' + sfx
    fig.layout[xkey] = dict(
        domain=[0, 1], anchor=ya, range=[0, 365], showgrid=False, zeroline=False,
        showline=True, linecolor=AXC, linewidth=1.5, mirror=True,
        tickmode='array', tickvals=MONTH_MIDS, ticktext=MONTHS, ticks='',
        ticklabelstandoff=-2,
        tickfont=dict(family=FONT, size=21, color='#000'),
        minor=dict(tickmode='array', tickvals=MONTH_STARTS[1:-1], ticks='inside', ticklen=7,
                   tickcolor=AXC, tickwidth=1.2, showgrid=False),
    )
    fig.layout[ykey] = dict(
        domain=DOMAINS[i], anchor=xa, range=Y_RANGES[i], showgrid=False, zeroline=False,
        showline=True, linecolor=AXC, linewidth=1.5, mirror='ticks',
        tickmode='linear', tick0=0, dtick=Y_DTICK[i], ticks='inside', ticklen=6,
        tickcolor=AXC, tickwidth=1.2, ticklabelstandoff=-2,
        tickfont=dict(family=FONT, size=21, color='#000'),
        minor=dict(tick0=0, dtick=Y_MINOR[i], ticks='inside', ticklen=6, tickcolor=AXC,
                   tickwidth=1.2, showgrid=False),
    )

# paper coordinates relative to the plot area (x: 91..628 px, y: 100..1090 px)
PLOT_L, PLOT_W = 91.0, 537.0
PLOT_B, PLOT_H = 1090.0, 990.0

def px_x(px):
    return (px - PLOT_L) / PLOT_W

def px_y(py):
    return (PLOT_B - py) / PLOT_H

annotations = []
for i, st in enumerate(STATIONS):
    sfx = '' if i == 0 else str(i + 1)
    annotations.append(dict(text=st, xref='x' + sfx + ' domain', yref='y' + sfx + ' domain',
                            x=px_x(605), y=0.916, xanchor='right', yanchor='middle',
                            showarrow=False, font=dict(family=FONT, size=22, color='#000')))
    dom = DOMAINS[i]
    annotations.append(dict(text='CO<sub>2</sub> (ppm)', xref='paper', yref='paper',
                            x=px_x(21), y=(dom[0] + dom[1]) / 2, textangle=-90,
                            xanchor='center', yanchor='middle', showarrow=False,
                            font=dict(family=FONT, size=22, color='#000')))

# manual legend (long line samples like the original)
LEG_PY = [18.3, 46.7, 75.0]
shapes = []
for name, col, py in zip(SERIES_NAMES, SERIES_COLORS, LEG_PY):
    shapes.append(dict(type='line', xref='paper', yref='paper', x0=px_x(107), x1=px_x(210),
                       y0=px_y(py), y1=px_y(py), line=dict(color=col, width=3)))
    annotations.append(dict(text=name, xref='paper', yref='paper', x=px_x(219), y=px_y(py),
                            xanchor='left', yanchor='middle', showarrow=False,
                            font=dict(family=FONT, size=23, color='#000')))

# figure is 2 px wider than the window so the right frame line falls just outside, as in the original
fig.update_layout(
    width=628, height=1120, margin=dict(l=91, r=0, t=100, b=30),
    paper_bgcolor='white', plot_bgcolor='white', showlegend=False,
    annotations=annotations, shapes=shapes,
)

fig.write_html(
    'out.html',
    config={'displayModeBar': False},
    post_script="document.body.style.margin='0px';document.body.style.overflow='hidden';",
)
